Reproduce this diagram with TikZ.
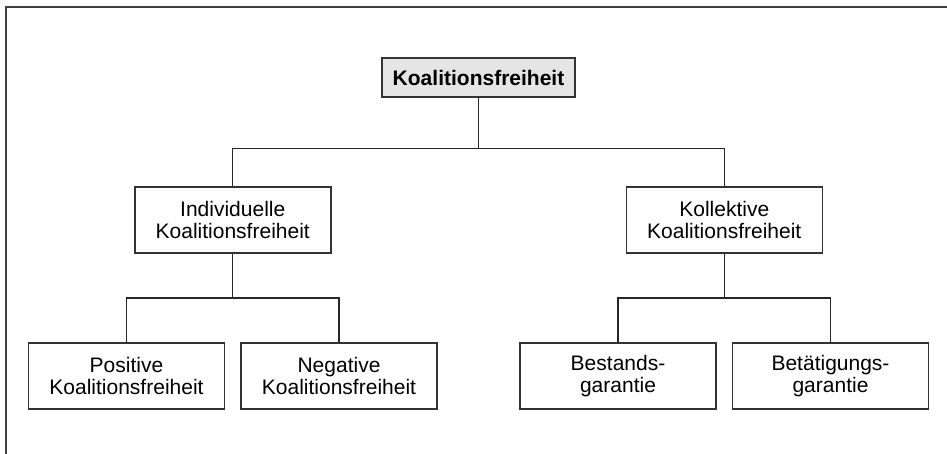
\documentclass[tikz,border=0pt]{standalone}
\usepackage{fontspec}
\setmainfont{Liberation Sans}
\usetikzlibrary{trees}

\begin{document}
\begin{tikzpicture}
  [x=0.5pt, y=-0.5pt,
  level 1/.style={sibling distance=245.75pt, level distance=71.25pt},
  level 2/.style={sibling distance=106.25pt, level distance=78pt},
  every node/.style={draw=black!80, line width=0.75pt, align=center,
    font=\fontsize{10.5}{10.7}\selectfont, inner sep=0pt,
    minimum width=98pt, minimum height=33pt},
  edge from parent/.style={draw=black!85, line width=0.7pt},
  edge from parent fork down]
\useasboundingbox (0,0) rectangle (947,454);
\draw[black!75, line width=1pt] (6,454) |- (947,7);
\node[fill=black!10, minimum width=96.5pt, minimum height=19.5pt,
  font=\fontsize{10.5}{10.7}\selectfont\bfseries] (root) at (478.5,77.5) {Koalitionsfreiheit}
child {node (ind) {Individuelle\\Koalitionsfreiheit}
  child {node (pos) {Positive\\Koalitionsfreiheit}}
  child {node (neg) {Negative\\Koalitionsfreiheit}}
}
child {node (kol) {Kollektive\\Koalitionsfreiheit}
  child {node (bes) {Bestands-\\garantie}}
  child {node (bet) {Betätigungs-\\garantie}}
};
\end{tikzpicture}
\end{document}
